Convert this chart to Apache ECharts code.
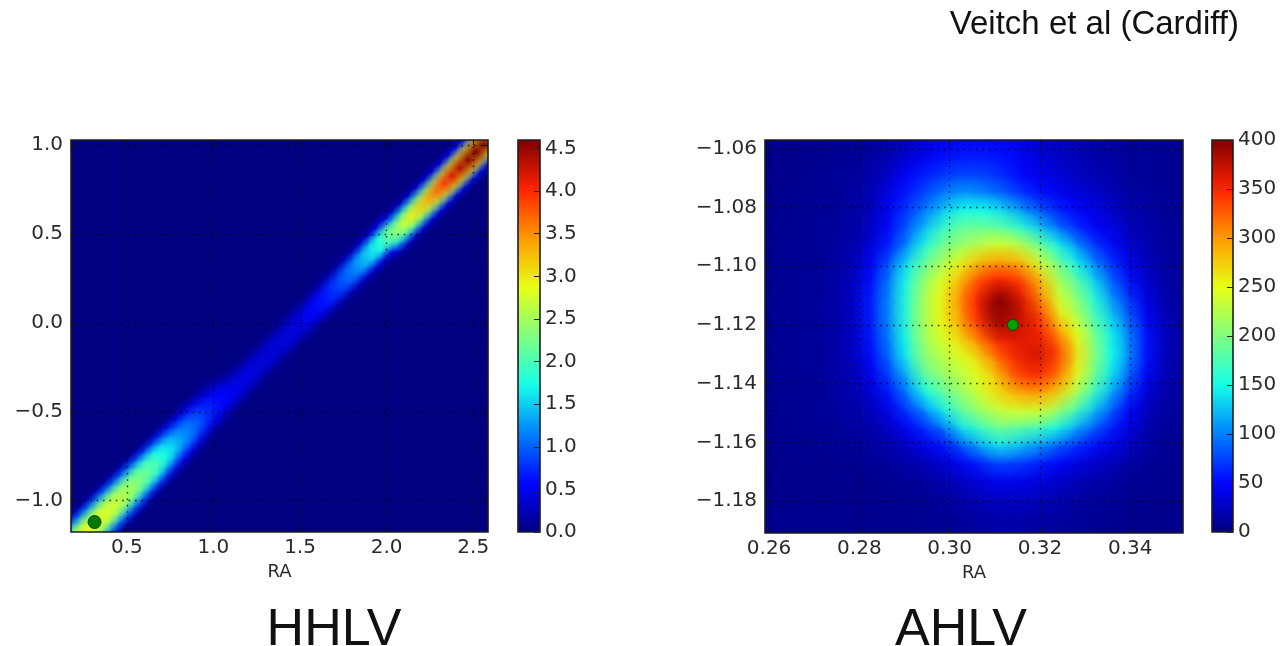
<!DOCTYPE html>
<html><head><meta charset="utf-8">
<style>html,body{margin:0;padding:0;background:#fff}#c{width:1282px;height:646px}</style>
<script src="https://cdn.jsdelivr.net/npm/echarts@6/dist/echarts.min.js"></script>
</head><body><div id="c"></div>
<script>
const jet=['#000080','#0004ff','#0080ff','#15ffe8','#80ff80','#e8ff15','#ff9900','#ff2200','#800000'];

const hhlvXRange=[0.178,2.585], hhlvYRange=[-1.176,1.028];
const ahlvXRange=[0.2591,0.3517], ahlvYRange=[-1.1909,-1.057];
const hhlvXTicks=[0.5,1.0,1.5,2.0,2.5];
const hhlvYTicks=[-1.0,-0.5,0.0,0.5,1.0];
const ahlvXTicks=[0.26,0.28,0.30,0.32,0.34];
const ahlvYTicks=[-1.18,-1.16,-1.14,-1.12,-1.10,-1.08,-1.06];
const hhlvBarTicks=[0,0.5,1,1.5,2,2.5,3,3.5,4,4.5];
const ahlvBarTicks=[0,50,100,150,200,250,300,350,400];
const hhlvMax=4.6, ahlvMax=400;
const injectionPoint=[0.314,-1.12];

// HHLV: 52 columns x 49 rows. Each entry: [first non-empty row, values upward]; the rest is 0.
const hhlvCols=52, hhlvRows=49;
const hhlvColumns=[
[-5,.29,1.3,2.45,2.9,2.45,1.3,.29],
[-4,.29,1.3,2.45,2.9,2.45,1.3,.29],
[-3,.29,1.3,2.45,2.9,2.45,1.3,.29],
[-2,.28,1.28,2.4,2.85,2.4,1.28,.28],
[-1,.28,1.26,2.38,2.8,2.38,1.26,.28],
[0,.27,1.2,2.3,2.7,2.3,1.2,.27],
[1,.26,1.15,2.2,2.6,2.2,1.15,.26],
[2,.25,1.1,2.1,2.45,2.1,1.1,.25],
[3,.23,1.05,1.95,2.3,1.95,1.05,.23],
[4,.2,.95,1.85,2.15,1.85,.95,.2],
[5,.2,.9,1.7,2,1.7,.9,.2],
[6,.18,.8,1.5,1.75,1.5,.8,.18],
[7,.15,.7,1.3,1.55,1.3,.7,.15],
[8,.13,.6,1.1,1.3,1.1,.6,.13],
[9,.12,.5,1,1.15,1,.5,.12],
[10,.1,.42,.82,1,.82,.42,.1],
[11,.07,.32,.68,.82,.68,.32,.07],
[12,.05,.25,.55,.68,.55,.25,.05],
[13,.04,.2,.46,.58,.46,.2,.04],
[14,.03,.18,.5,.5,.18,.03],
[15,.03,.15,.45,.45,.15,.03],
[16,.02,.14,.42,.42,.14,.02],
[17,.02,.13,.4,.4,.13,.02],
[18,.02,.12,.38,.38,.12,.02],
[19,.02,.12,.37,.37,.12,.02],
[20,.02,.12,.37,.37,.12,.02],
[21,.02,.12,.38,.38,.12,.02],
[22,.02,.13,.4,.4,.13,.02],
[23,.02,.14,.43,.43,.14,.02],
[24,.03,.15,.48,.48,.15,.03],
[25,.03,.17,.54,.54,.17,.03],
[26,.03,.2,.62,.62,.2,.03],
[27,.03,.22,.72,.72,.22,.03],
[28,.04,.26,.85,.85,.26,.04],
[29,.05,.3,1,1,.3,.05],
[30,.06,.35,1.15,1.15,.35,.06],
[31,.07,.42,1.35,1.35,.42,.07],
[32,.08,.48,1.55,1.55,.48,.08],
[33,.09,.55,1.75,1.75,.55,.09],
[34,.1,.6,2,2,.6,.1],
[34,.02,.35,1.55,2.35,1.55,.35,.02],
[35,.03,.4,1.8,2.7,1.8,.4,.03],
[36,.03,.45,1.95,2.95,1.95,.45,.03],
[37,.03,.47,2.05,3.1,2.05,.47,.03],
[38,.03,.5,2.2,3.3,2.2,.5,.03],
[39,.04,.55,2.4,3.6,2.4,.55,.04],
[40,.04,.6,2.6,3.9,2.6,.6,.04],
[41,.04,.62,2.8,4.15,2.8,.62,.04],
[42,.04,.65,2.9,4.35,2.9,.65,.04],
[43,.05,.68,3,4.5,3,.68,.05],
[44,.05,.7,3.1,4.6,3.1,.7,.05],
[45,.05,.68,3,4.5,3,.68,.05]
];

// AHLV: rows listed from top of the plot to bottom
const ahlvRows=[
[5,5,5,5,8,8,10,15,25,35,45,50,50,48,40,30,25,20,15,12,10,8,8,6],
[5,5,5,6,8,10,14,22,35,45,55,60,60,55,45,35,28,22,18,14,12,10,8,6],
[5,5,6,8,10,12,18,30,50,62,72,78,75,65,50,42,35,28,22,16,12,10,8,6],
[5,6,7,8,10,13,20,40,60,80,100,110,100,88,70,55,45,38,30,22,15,12,9,7],
[5,6,7,8,10,14,24,45,72,100,130,150,150,135,110,85,65,50,40,30,20,14,10,7],
[6,6,8,9,11,16,28,52,85,125,165,190,190,180,160,130,95,70,50,38,25,17,11,8],
[6,7,8,10,12,18,35,62,105,155,195,210,225,240,225,190,150,110,75,52,32,20,12,8],
[6,7,8,10,13,22,48,85,140,190,220,255,285,295,285,240,195,150,105,70,42,24,14,9],
[6,7,9,10,14,26,55,100,155,210,245,285,330,350,335,285,220,185,135,90,55,30,16,9],
[6,8,9,11,15,28,60,105,160,220,255,300,350,395,360,305,240,205,160,110,70,38,18,10],
[6,8,9,11,15,28,60,105,160,220,255,290,340,385,370,335,265,225,175,130,85,45,22,11],
[6,8,9,11,15,28,58,100,155,215,240,265,305,345,360,350,300,250,195,145,100,55,25,12],
[6,7,9,11,14,26,52,92,145,205,225,245,265,310,345,365,335,265,205,150,105,55,25,12],
[6,7,8,10,14,22,42,75,120,185,210,225,245,275,325,345,315,255,195,140,90,45,22,11],
[6,7,8,10,13,19,32,58,100,150,185,210,235,265,285,295,275,225,170,120,70,35,18,10],
[5,6,8,9,12,16,25,42,72,105,145,185,210,230,240,240,215,175,130,90,50,25,14,9],
[5,6,7,8,10,13,18,28,48,68,95,140,165,190,180,170,150,120,90,62,38,18,11,8],
[5,6,6,7,8,10,12,18,28,42,55,85,115,140,125,110,90,70,55,40,30,14,9,7],
[4,5,5,5,6,7,9,12,16,22,32,45,60,78,72,62,50,40,32,25,16,10,7,6],
[4,4,4,4,5,5,6,8,10,13,20,28,36,45,42,38,30,24,18,14,10,8,6,5],
[4,4,4,4,4,4,4,5,6,8,12,18,22,28,28,25,20,16,12,10,8,6,5,5],
[4,5,5,5,5,5,5,5,6,7,9,12,15,18,18,16,14,11,9,7,6,5,5,4],
[6,6,6,6,6,6,6,6,6,7,8,10,12,13,13,12,11,9,7,6,5,5,4,4]
];

const hDx=(hhlvXRange[1]-hhlvXRange[0])/hhlvCols, hDy=(hhlvYRange[1]-hhlvYRange[0])/hhlvRows;
const hhlvCells=[];
hhlvColumns.forEach((col,c)=>{col.slice(1).forEach((v,i)=>{
  hhlvCells.push([hhlvXRange[0]+(c+.5)*hDx, hhlvYRange[0]+(col[0]+i+.5)*hDy, v]);
});});
const aCols=ahlvRows[0].length, aRows=ahlvRows.length;
const aDx=(ahlvXRange[1]-ahlvXRange[0])/aCols, aDy=(ahlvYRange[1]-ahlvYRange[0])/aRows;
const ahlvCells=[];
ahlvRows.forEach((row,r)=>{row.forEach((v,c)=>{
  ahlvCells.push([ahlvXRange[0]+(c+.5)*aDx, ahlvYRange[1]-(r+.5)*aDy, v]);
});});
const byValue=(a,b)=>a[2]-b[2];

function flat(dx,dy){return function(p,api){
  const c=api.coord([api.value(0),api.value(1)]), s=api.size([dx,dy]);
  return {type:'rect',silent:true,shape:{x:c[0]-s[0]/2-.5,y:c[1]-s[1]/2-.5,width:s[0]+1,height:s[1]+1},style:{fill:api.visual('color')}};
};}
function soft(dx,dy,k){return function(p,api){
  const c=api.coord([api.value(0),api.value(1)]), s=api.size([dx,dy]), col=api.visual('color');
  return {type:'circle',silent:true,shape:{cx:c[0],cy:c[1],r:Math.max(s[0],s[1])*k},
    style:{fill:new echarts.graphic.RadialGradient(.5,.5,.5,[{offset:0,color:col},{offset:1,color:echarts.color.modifyAlpha(col,0)}])}};
};}
const txt='#2b2b2b', fs=20, dejavu='"DejaVu Sans"';
const fmt=d=>v=>v.toFixed(d).replace('-','\u2212');
function ax(gi,pos,range,ticks,d,name){
  const t={show:true,inside:true,length:5,customValues:ticks,lineStyle:{color:'#111',width:1}};
  return {type:'value',gridIndex:gi,position:pos,min:range[0],max:range[1],z:3,
    name:name||'',nameLocation:'middle',nameGap:30,nameTextStyle:{fontFamily:dejavu,fontSize:18,color:txt},
    axisLine:{show:false,onZero:false},axisTick:t,
    axisLabel:d==null?{show:false}:{show:true,customValues:ticks,formatter:fmt(d),fontFamily:dejavu,fontSize:fs,color:txt,margin:pos==='bottom'?6:8},
    splitLine:d==null?{show:false}:{show:true,lineStyle:{color:'rgba(0,0,0,.75)',width:1.4,type:[1.6,4.8]}}};
}
function barAx(gi,max,ticks,d){
  return {type:'value',gridIndex:gi,position:'right',min:0,max:max,z:7,
    axisLine:{show:false,onZero:false},splitLine:{show:false},
    axisTick:{show:true,inside:true,length:6,customValues:ticks,lineStyle:{color:'#222',width:1}},
    axisLabel:{show:true,customValues:ticks,formatter:fmt(d),fontFamily:dejavu,fontSize:fs,color:txt,margin:5}};
}
const hideX=(gi)=>({type:'value',gridIndex:gi,show:false,min:0,max:1});
const frame=(l,t,w,h,z)=>({left:l,top:t,width:w,height:h,show:true,z:z,backgroundColor:'transparent',borderColor:'#1c1c1c',borderWidth:1.6});
const G1=[71,140,417,392], G2=[765,140,418,393], B1=[518,140,22,392], B2=[1212,140,21,392];
const bigFont='"Liberation Sans"';
const chart=echarts.init(document.getElementById('c'),null,{renderer:'canvas'});
chart.setOption({
  animation:false,backgroundColor:'#fff',
  title:[
    {text:'Veitch et al (Cardiff)',right:38,top:3,textStyle:{fontFamily:bigFont,fontSize:33,fontWeight:'normal',color:'#111'}},
    {text:'HHLV',left:329,top:600,textAlign:'center',textStyle:{fontFamily:bigFont,fontSize:52,fontWeight:'normal',color:'#111'}},
    {text:'AHLV',left:956,top:600,textAlign:'center',textStyle:{fontFamily:bigFont,fontSize:52,fontWeight:'normal',color:'#111'}}
  ],
  grid:[
    {left:G1[0],top:G1[1],width:G1[2],height:G1[3],show:true,backgroundColor:'#000080',borderWidth:0},
    {left:G2[0],top:G2[1],width:G2[2],height:G2[3],show:true,backgroundColor:'#000080',borderWidth:0},
    frame(B1[0],B1[1],B1[2],B1[3],6),
    frame(B2[0],B2[1],B2[2],B2[3],6),
    frame(G1[0],G1[1],G1[2],G1[3],3),
    frame(G2[0],G2[1],G2[2],G2[3],3)
  ],
  xAxis:[
    ax(0,'bottom',hhlvXRange,hhlvXTicks,1,'RA'),
    ax(1,'bottom',ahlvXRange,ahlvXTicks,2,'RA'),
    hideX(2),hideX(3),
    ax(0,'top',hhlvXRange,hhlvXTicks,null),
    ax(1,'top',ahlvXRange,ahlvXTicks,null)
  ],
  yAxis:[
    ax(0,'left',hhlvYRange,hhlvYTicks,1),
    ax(1,'left',ahlvYRange,ahlvYTicks,2),
    barAx(2,hhlvMax,hhlvBarTicks,1),
    barAx(3,ahlvMax,ahlvBarTicks,0),
    ax(0,'right',hhlvYRange,hhlvYTicks,null),
    ax(1,'right',ahlvYRange,ahlvYTicks,null)
  ],
  visualMap:[
    {type:'continuous',min:0,max:hhlvMax,dimension:2,seriesIndex:[0,1],left:B1[0],top:B1[1],itemWidth:B1[2],itemHeight:B1[3],padding:0,
     showLabel:false,text:null,calculable:false,hoverLink:false,inRange:{color:jet},z:5},
    {type:'continuous',min:0,max:ahlvMax,dimension:2,seriesIndex:[2,3],left:B2[0],top:B2[1],itemWidth:B2[2],itemHeight:B2[3],padding:0,
     showLabel:false,text:null,calculable:false,hoverLink:false,inRange:{color:jet},z:5}
  ],
  series:[
    {type:'custom',coordinateSystem:'cartesian2d',xAxisIndex:0,yAxisIndex:0,clip:true,z:1,silent:true,renderItem:flat(hDx,hDy),data:hhlvCells,encode:{x:0,y:1}},
    {type:'custom',coordinateSystem:'cartesian2d',xAxisIndex:0,yAxisIndex:0,clip:true,z:1,silent:true,renderItem:soft(hDx,hDy,1.6),data:hhlvCells.slice().sort(byValue),encode:{x:0,y:1}},
    {type:'custom',coordinateSystem:'cartesian2d',xAxisIndex:1,yAxisIndex:1,clip:true,z:1,silent:true,renderItem:flat(aDx,aDy),data:ahlvCells,encode:{x:0,y:1}},
    {type:'custom',coordinateSystem:'cartesian2d',xAxisIndex:1,yAxisIndex:1,clip:true,z:1,silent:true,renderItem:soft(aDx,aDy,1.5),data:ahlvCells.slice().sort(byValue),encode:{x:0,y:1}},
    {type:'scatter',xAxisIndex:0,yAxisIndex:0,z:5,symbolSize:13,silent:true,itemStyle:{color:'#007a00',borderColor:'#0a4a0a',borderWidth:1,opacity:1},data:[injectionPoint]},
    {type:'scatter',xAxisIndex:1,yAxisIndex:1,z:5,symbolSize:11,silent:true,itemStyle:{color:'#00a000',borderColor:'#0a4a0a',borderWidth:1,opacity:1},data:[injectionPoint]}
  ]
});
</script></body></html>
